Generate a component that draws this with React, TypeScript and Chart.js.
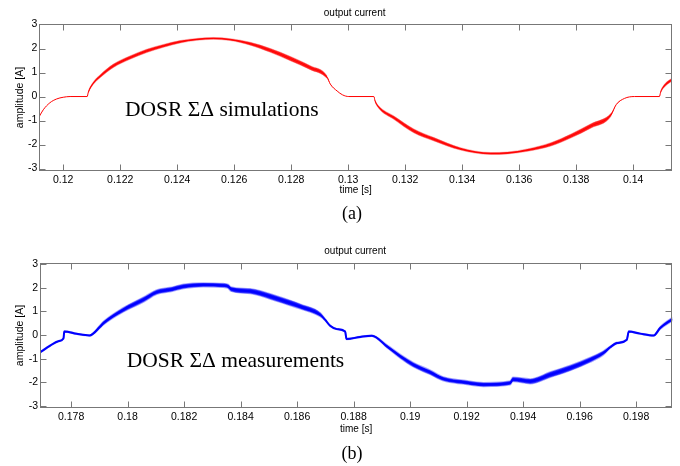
import React, { useEffect, useRef } from "react";
import { Chart, registerables } from "chart.js";

Chart.register(...registerables);

// ---------- (a) simulation ----------
const timeA = [
  0.11916, 0.1193, 0.11953, 0.11977, 0.12, 0.12024, 0.12084,
  0.12088, 0.12105, 0.12129, 0.12176, 0.12234, 0.12293, 0.12352, 0.1241, 0.12469, 0.12527, 0.12586, 0.12656, 0.12727, 0.12797, 0.12867, 0.12926,
  0.12937, 0.12961, 0.1298, 0.13002, 0.1309,
  0.13094, 0.13107, 0.1316, 0.1323, 0.13301, 0.13394, 0.135, 0.13559, 0.13629, 0.13711, 0.13782, 0.13852, 0.13922,
  0.1394, 0.13969, 0.14004, 0.14092,
  0.14096, 0.14104, 0.14139,
];
const currentA = [
  -0.83, -0.55, -0.26, -0.1, -0.03, 0.0, 0.0,
  0.18, 0.55, 0.84, 1.28, 1.62, 1.9, 2.11, 2.28, 2.38, 2.42, 2.37, 2.2, 1.92, 1.58, 1.2, 0.8,
  0.52, 0.23, 0.07, 0.0, 0.0,
  -0.18, -0.44, -0.88, -1.43, -1.78, -2.18, -2.37, -2.35, -2.23, -1.99, -1.64, -1.22, -0.76,
  -0.34, -0.08, 0.0, 0.0,
  0.18, 0.37, 0.74,
];
const rippleA = [
  0, 0, 0, 0, 0, 0, 0,
  0.03, 0.05, 0.06, 0.07, 0.07, 0.07, 0.06, 0.05, 0.04, 0.04, 0.04, 0.06, 0.08, 0.09, 0.08, 0.05,
  0, 0, 0, 0, 0,
  0.03, 0.05, 0.07, 0.08, 0.07, 0.05, 0.04, 0.04, 0.05, 0.07, 0.08, 0.09, 0.06,
  0, 0, 0, 0,
  0.03, 0.05, 0.06,
];
const xTicksA = [0.12, 0.122, 0.124, 0.126, 0.128, 0.13, 0.132, 0.134, 0.136, 0.138, 0.14];

// ---------- (b) measurement ----------
const timeB = [
  0.1769, 0.17726, 0.17755, 0.17773,
  0.17776, 0.1782, 0.17865,
  0.17903, 0.17914, 0.17985, 0.18056, 0.18103, 0.1815, 0.18198, 0.18268, 0.18339, 0.18356, 0.18366, 0.18434, 0.18504, 0.18575, 0.18611, 0.18682,
  0.18699, 0.18717, 0.18741, 0.1877,
  0.18775, 0.18823, 0.18865,
  0.18918, 0.18965, 0.19012, 0.19071, 0.19118, 0.19189, 0.1926, 0.19354, 0.19364, 0.19425, 0.19496, 0.19566, 0.19637, 0.19684,
  0.19708, 0.19732, 0.19767,
  0.19774, 0.19814, 0.19862,
  0.19885, 0.19929,
];
const currentB = [
  -0.74, -0.45, -0.26, -0.15,
  0.15, 0.05, -0.02,
  0.36, 0.5, 1.07, 1.5, 1.82, 1.92, 2.06, 2.13, 2.1, 2.06, 1.95, 1.86, 1.64, 1.36, 1.21, 0.86,
  0.65, 0.39, 0.25, 0.15,
  -0.17, -0.08, -0.03,
  -0.48, -0.9, -1.26, -1.58, -1.86, -2.0, -2.1, -2.03, -1.88, -1.96, -1.68, -1.4, -1.05, -0.76,
  -0.52, -0.34, -0.2,
  0.15, 0.06, -0.02,
  0.3, 0.68,
];
const rippleB = [
  0.02, 0.02, 0.02, 0.02,
  0.02, 0.02, 0.02,
  0.06, 0.07, 0.09, 0.1, 0.09, 0.09, 0.09, 0.08, 0.08, 0.08, 0.09, 0.1, 0.11, 0.11, 0.1, 0.08,
  0.03, 0.02, 0.02, 0.02,
  0.02, 0.02, 0.02,
  0.06, 0.08, 0.09, 0.09, 0.08, 0.08, 0.08, 0.08, 0.09, 0.1, 0.11, 0.11, 0.1, 0.08,
  0.04, 0.03, 0.02,
  0.02, 0.02, 0.02,
  0.05, 0.07,
];
const xTicksB = [0.178, 0.18, 0.182, 0.184, 0.186, 0.188, 0.19, 0.192, 0.194, 0.196, 0.198];

const yTicks = [-3, -2, -1, 0, 1, 2, 3];

const chartTitle = "output current";
const xTitle = "time [s]";
const yTitle = "amplitude [A]";

type PanelProps = {
  top: number;
  height: number;
  times: number[];
  values: number[];
  ripple: number[];
  xTicks: number[];
  xMin: number;
  xMax: number;
  yMin: number;
  yMax: number;
  yAxisWidth: number;
  xAxisHeight: number;
  padding: { top: number; right: number; bottom: number; left: number };
  titleY: number;
  note: string;
  noteX: number;
  noteY: number;
  core: string;
  coreWidth: number;
  band: string;
  fringe: string;
  fringeWidth: number;
  thinWhenFlat: boolean;
};

function Panel(p: PanelProps) {
  const ref = useRef<HTMLCanvasElement | null>(null);

  useEffect(() => {
    if (!ref.current) return;
    const pts = p.times.map((t, i) => ({ x: t, y: p.values[i] }));
    const upper = p.times.map((t, i) => ({ x: t, y: p.values[i] + p.ripple[i] }));
    const lower = p.times.map((t, i) => ({ x: t, y: p.values[i] - p.ripple[i] }));

    const hasRipple = (ctx: any) =>
      p.ripple[ctx.p0DataIndex] > 0.025 && p.ripple[ctx.p1DataIndex] > 0.025;

    const framePlugin = {
      id: "matlabFrame",
      afterDraw(chart: any) {
        const { ctx, chartArea: a, scales } = chart;
        ctx.save();
        ctx.strokeStyle = "#777777";
        ctx.lineWidth = 1;
        const L = Math.round(a.left) + 0.5;
        const R = Math.round(a.right) - 0.5;
        const T = Math.round(a.top) + 0.5;
        const B = Math.round(a.bottom) - 0.5;
        ctx.strokeRect(L, T, R - L, B - T);
        ctx.beginPath();
        for (const tk of scales.x.ticks) {
          const px = Math.round(scales.x.getPixelForValue(tk.value)) + 0.5;
          ctx.moveTo(px, B);
          ctx.lineTo(px, B - 6);
          ctx.moveTo(px, T);
          ctx.lineTo(px, T + 6);
        }
        for (const tk of scales.y.ticks) {
          const py = Math.round(scales.y.getPixelForValue(tk.value)) + 0.5;
          ctx.moveTo(L, py);
          ctx.lineTo(L + 6, py);
          ctx.moveTo(R, py);
          ctx.lineTo(R - 6, py);
        }
        ctx.stroke();
        ctx.fillStyle = "#000000";
        ctx.font = '10px "Liberation Sans", Arial, sans-serif';
        ctx.textAlign = "center";
        ctx.textBaseline = "middle";
        ctx.fillText(chartTitle, (a.left + a.right) / 2 - 1, p.titleY);
        ctx.font = '21.5px "Liberation Serif", "Times New Roman", serif';
        ctx.textAlign = "left";
        ctx.textBaseline = "alphabetic";
        ctx.fillText(p.note, scales.x.getPixelForValue(p.noteX), scales.y.getPixelForValue(p.noteY));
        ctx.restore();
      },
    };

    const common = {
      pointRadius: 0,
      cubicInterpolationMode: "monotone",
    };

    const chart = new Chart(ref.current, {
      type: "line",
      data: {
        datasets: [
          {
            ...common,
            data: pts,
            borderColor: p.core,
            borderWidth: p.coreWidth,
            fill: false,
          },
          {
            ...common,
            data: upper,
            borderColor: p.fringe,
            borderWidth: p.fringeWidth,
            fill: false,
            segment: {
              borderColor: (ctx: any) => (p.thinWhenFlat && !hasRipple(ctx) ? "rgba(0,0,0,0)" : p.fringe),
            },
          },
          {
            ...common,
            data: lower,
            borderColor: p.fringe,
            borderWidth: p.fringeWidth,
            fill: "-1",
            backgroundColor: p.band,
            segment: {
              borderColor: (ctx: any) => (p.thinWhenFlat && !hasRipple(ctx) ? "rgba(0,0,0,0)" : p.fringe),
            },
          },
        ],
      },
      options: {
        responsive: false,
        animation: false,
        devicePixelRatio: 1,
        events: [],
        layout: { padding: p.padding },
        plugins: {
          legend: { display: false },
          tooltip: { enabled: false },
          title: { display: false },
        },
        scales: {
          x: {
            type: "linear",
            min: p.xMin,
            max: p.xMax,
            grid: { display: false, drawTicks: false },
            border: { display: false },
            afterBuildTicks: (scale: any) => {
              scale.ticks = p.xTicks.map((v) => ({ value: v }));
            },
            afterFit: (scale: any) => {
              scale.height = p.xAxisHeight;
            },
            ticks: {
              autoSkip: false,
              maxRotation: 0,
              minRotation: 0,
              padding: 3,
              color: "#000000",
              font: { family: '"Liberation Sans", Arial, sans-serif', size: 10.5 },
              callback: (v: any) => String(v),
            },
            title: {
              display: true,
              text: xTitle,
              color: "#000000",
              padding: { top: 0, bottom: 0 },
              font: { family: '"Liberation Sans", Arial, sans-serif', size: 10 },
            },
          },
          y: {
            type: "linear",
            min: p.yMin,
            max: p.yMax,
            grid: { display: false, drawTicks: false },
            border: { display: false },
            afterBuildTicks: (scale: any) => {
              scale.ticks = yTicks.map((v) => ({ value: v }));
            },
            afterFit: (scale: any) => {
              scale.width = p.yAxisWidth;
            },
            ticks: {
              autoSkip: false,
              padding: 2,
              color: "#000000",
              font: { family: '"Liberation Sans", Arial, sans-serif', size: 10.5 },
              callback: (v: any) => String(v),
            },
            title: {
              display: true,
              text: yTitle,
              color: "#000000",
              padding: { top: 14, bottom: 0 },
              font: { family: '"Liberation Sans", Arial, sans-serif', size: 10.5 },
            },
          },
        },
      },
      plugins: [framePlugin],
    } as any);

    return () => chart.destroy();
  }, []);

  return (
    <canvas
      ref={ref}
      width={680}
      height={p.height}
      style={{ position: "absolute", left: 0, top: p.top, width: 680, height: p.height }}
    />
  );
}

const captionStyle: React.CSSProperties = {
  position: "absolute",
  left: 322,
  width: 60,
  textAlign: "center",
  fontFamily: '"Liberation Serif", "Times New Roman", serif',
  fontSize: 18,
  lineHeight: "20px",
  color: "#000",
};

export default function App() {
  return (
    <div style={{ position: "absolute", left: 0, top: 0, width: 680, height: 466, background: "#ffffff", overflow: "hidden" }}>
      <Panel
        top={0}
        height={232}
        times={timeA}
        values={currentA}
        ripple={rippleA}
        xTicks={xTicksA}
        xMin={0.11916}
        xMax={0.14136}
        yMin={-3.1}
        yMax={3.02}
        yAxisWidth={39.3}
        xAxisHeight={25}
        padding={{ top: 24, right: 8, bottom: 36, left: 0 }}
        titleY={13}
        note={"DOSR \u03A3\u0394 simulations"}
        noteX={0.122169}
        noteY={-0.81}
        core="#ff0000"
        coreWidth={1}
        band="rgba(255,0,0,0.9)"
        fringe="rgba(255,80,80,0.4)"
        fringeWidth={1}
        thinWhenFlat={true}
      />
      <Panel
        top={232}
        height={234}
        times={timeB}
        values={currentB}
        ripple={rippleB}
        xTicks={xTicksB}
        xMin={0.1769}
        xMax={0.19928}
        yMin={-3.08}
        yMax={3.04}
        yAxisWidth={40}
        xAxisHeight={27.3}
        padding={{ top: 31.3, right: 7.7, bottom: 31, left: 0 }}
        titleY={19}
        note={"DOSR \u03A3\u0394 measurements"}
        noteX={0.179972}
        noteY={-1.37}
        core="#0000ff"
        coreWidth={2}
        band="rgba(0,0,255,0.95)"
        fringe="rgba(90,90,255,0.5)"
        fringeWidth={1.5}
        thinWhenFlat={false}
      />
      <div style={{ ...captionStyle, top: 203 }}>(a)</div>
      <div style={{ ...captionStyle, top: 443 }}>(b)</div>
    </div>
  );
}
